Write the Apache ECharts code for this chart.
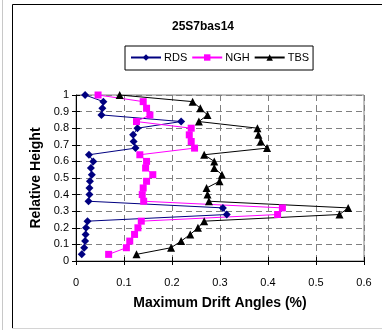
<!DOCTYPE html>
<html>
<head>
<meta charset="utf-8">
<script src="https://cdn.jsdelivr.net/npm/echarts@6/dist/echarts.min.js"></script>
<style>
  html, body { margin: 0; padding: 0; background: #fff; }
  #chart { width: 382px; height: 330px; }
</style>
</head>
<body>
<div id="chart"></div>
<script>
// relative height of each story (25 stories)
const heights = [1.00, 0.96, 0.92, 0.88, 0.84, 0.80, 0.76, 0.72, 0.68, 0.64, 0.60, 0.56, 0.52,
  0.48, 0.44, 0.40, 0.36, 0.32, 0.28, 0.24, 0.20, 0.16, 0.12, 0.08, 0.04]

// maximum drift angles (%), top story first
const rds = [0.019, 0.057, 0.055, 0.053, 0.219, 0.128, 0.119, 0.120, 0.124, 0.027, 0.036, 0.031, 0.033,
  0.029, 0.028, 0.028, 0.026, 0.306, 0.314, 0.024, 0.021, 0.020, 0.019, 0.017, 0.012]
const ngh = [0.046, 0.140, 0.147, 0.154, 0.126, 0.240, 0.236, 0.240, 0.247, 0.133, 0.147, 0.145, 0.160,
  0.147, 0.140, 0.138, 0.141, 0.430, 0.420, 0.136, 0.129, 0.122, 0.112, 0.105, 0.068]
const tbs = [0.091, 0.243, 0.259, 0.274, 0.256, 0.378, 0.380, 0.385, 0.398, 0.267, 0.288, 0.288, 0.304,
  0.299, 0.272, 0.274, 0.277, 0.567, 0.549, 0.267, 0.254, 0.238, 0.219, 0.198, 0.126]

const seriesNames = ['RDS', 'NGH', 'TBS']

const pairs = (vals) => vals.map((v, i) => [v, heights[i]])

const chart = echarts.init(document.getElementById('chart'), null, { renderer: 'canvas' })

const font = 'Liberation Sans, Arial, sans-serif'
const dashed = { color: '#808080', type: [6, 4], width: 1 }

// extra axes only to draw the short inside half of the crossing ticks
const tickOnly = {
  axisLine: { show: false },
  axisLabel: { show: false },
  splitLine: { show: false },
  axisTick: { show: true, inside: true, length: 4, lineStyle: { color: '#000' } }
}

chart.setOption({
  animation: false,
  textStyle: { fontFamily: font },
  graphic: [
    {
      type: 'polyline',
      shape: { points: [[382, 4.5], [12.5, 4.5], [12.5, 328.5]] },
      style: { fill: 'none', stroke: '#000', lineWidth: 1 },
      silent: true
    },
    {
      type: 'line',
      shape: { x1: 12, y1: 328.5, x2: 382, y2: 328.5 },
      style: { stroke: '#d4d4d4', lineWidth: 1 },
      silent: true
    },
    {
      type: 'line',
      shape: { x1: 2.5, y1: 0, x2: 2.5, y2: 330 },
      style: { stroke: '#c8c8c8', lineWidth: 1 },
      silent: true
    }
  ],
  title: {
    text: '25S7bas14',
    left: 198,
    top: 16,
    textAlign: 'center',
    textStyle: { fontSize: 12, fontWeight: 'bold', color: '#000', fontFamily: font }
  },
  legend: {
    data: seriesNames,
    left: 125,
    top: 46,
    width: 190,
    padding: [6, 4, 7, 5],
    itemGap: 4,
    itemWidth: 30,
    itemHeight: 8,
    borderColor: '#000',
    borderWidth: 1,
    textStyle: { fontSize: 11, color: '#000', fontFamily: font, padding: [0, 0, 0, -2] }
  },
  grid: {
    left: 76,
    right: 18,
    top: 95,
    bottom: 69,
    show: true,
    borderColor: '#808080',
    borderWidth: 1
  },
  xAxis: [
    {
      type: 'value',
      min: 0,
      max: 0.6,
      interval: 0.1,
      name: 'Maximum Drift Angles (%)',
      nameLocation: 'middle',
      nameGap: 35,
      nameTextStyle: { fontSize: 14, fontWeight: 'bold', color: '#000', fontFamily: font },
      axisLine: { lineStyle: { color: '#000', width: 1 } },
      axisTick: { show: true, length: 4, lineStyle: { color: '#000' } },
      axisLabel: { fontSize: 11, color: '#000', margin: 16, fontFamily: font },
      splitLine: { show: true, lineStyle: dashed }
    },
    Object.assign({ type: 'value', min: 0, max: 0.6, interval: 0.1, position: 'bottom' }, tickOnly)
  ],
  yAxis: [
    {
      type: 'value',
      min: 0,
      max: 1,
      interval: 0.1,
      name: 'Relative Height',
      nameLocation: 'middle',
      nameGap: 33,
      nameTextStyle: { fontSize: 14, fontWeight: 'bold', color: '#000', fontFamily: font },
      axisLine: { show: true, lineStyle: { color: '#000', width: 1 } },
      axisTick: { show: true, length: 4, lineStyle: { color: '#000' } },
      axisLabel: { fontSize: 11, color: '#000', margin: 7, fontFamily: font },
      splitLine: { show: true, lineStyle: dashed }
    },
    Object.assign({ type: 'value', min: 0, max: 1, interval: 0.1, position: 'left' }, tickOnly)
  ],
  series: [
    {
      name: 'RDS',
      type: 'line',
      data: pairs(rds),
      symbol: 'diamond',
      symbolSize: 8,
      itemStyle: { color: '#000080' },
      lineStyle: { color: '#000080', width: 1 }
    },
    {
      name: 'NGH',
      type: 'line',
      data: pairs(ngh),
      symbol: 'rect',
      symbolSize: 7,
      itemStyle: { color: '#ff00ff' },
      lineStyle: { color: '#ff00ff', width: 1 }
    },
    {
      name: 'TBS',
      type: 'line',
      data: pairs(tbs),
      symbol: 'triangle',
      symbolSize: 8,
      itemStyle: { color: '#000' },
      lineStyle: { color: '#000', width: 1 }
    }
  ]
})
</script>
</body>
</html>
